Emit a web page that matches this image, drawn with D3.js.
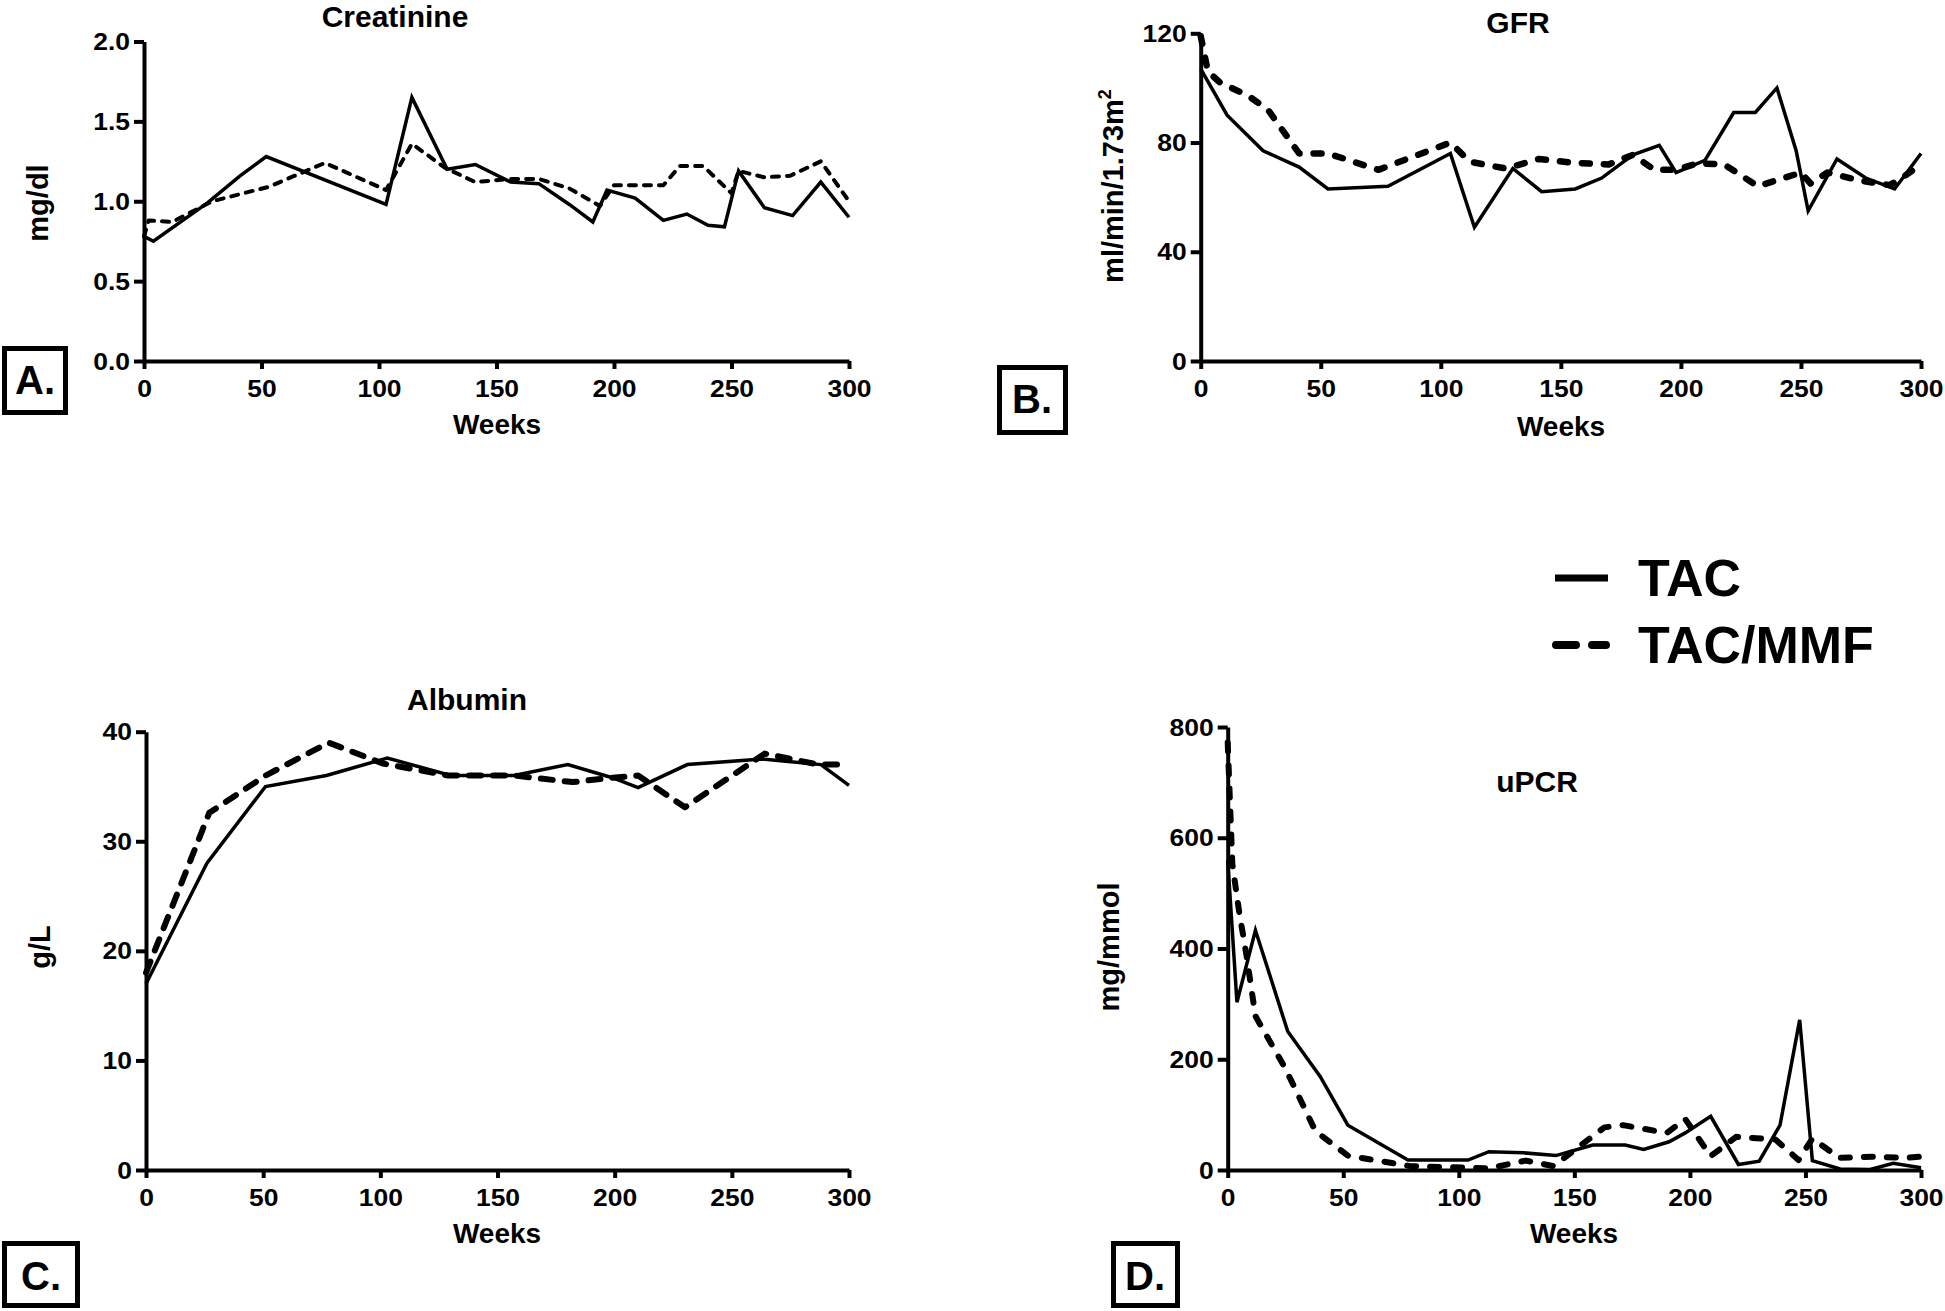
<!DOCTYPE html>
<html>
<head>
<meta charset="utf-8">
<script src="https://cdn.jsdelivr.net/npm/d3@7"></script>
<style>
  html, body { margin: 0; padding: 0; background: #fff; }
  svg text { font-family: "Liberation Sans", Arial, Helvetica, sans-serif; font-weight: bold; fill: #000; }
</style>
</head>
<body>
<svg id="chart" width="1945" height="1311"></svg>
<script>
// ---------------- DATA ----------------
const weekTicks = [0, 50, 100, 150, 200, 250, 300];
const seriesNames = ["TAC", "TAC/MMF"];

const creatinineTicks = [0, 0.5, 1.0, 1.5, 2.0];
const creatinineTAC = [[0,0.78],[4,0.75],[27,0.99],[41,1.16],[52,1.28],[103,0.98],[114,1.65],[129,1.20],[141,1.23],[156,1.12],[168,1.11],[181,0.98],[191,0.87],[197,1.07],[209,1.02],[221,0.88],[231,0.92],[240,0.85],[247,0.84],[253,1.19],[264,0.96],[276,0.91],[288,1.12],[300,0.90]];
const creatinineMMF = [[0,0.78],[2,0.88],[12,0.87],[29,1.00],[53,1.09],[77,1.24],[103,1.07],[114,1.36],[128,1.21],[141,1.12],[156,1.14],[168,1.14],[181,1.08],[194,0.97],[200,1.10],[210,1.10],[221,1.10],[228,1.22],[238,1.22],[250,1.05],[253,1.19],[264,1.15],[275,1.16],[288,1.25],[300,1.00]];

const gfrTicks = [0, 40, 80, 120];
const gfrTAC = [[0,107],[11,90],[26,77],[41,71],[53,63],[78,64],[104,76],[114,49],[130,70.5],[142,62],[156,63],[167,67],[180,75.5],[191,79],[198,69],[210,73.5],[222,91],[231,91],[240,100],[248,77],[253,55],[265,74],[277,67],[289,63],[300,76]];
const gfrMMF = [[0,119],[3,106],[8,102],[20,97],[28,92],[41,76],[53,76],[74,70],[104,80],[112,73],[127,70.5],[141,74],[155,72.6],[170,72],[180,75.5],[189,70],[198,70],[207,72.4],[218,72],[232,64],[250,69],[254,65],[261,69],[275,66],[287,64.4],[292,67],[300,72]];

const albuminTicks = [0, 10, 20, 30, 40];
const albuminTAC = [[0,17],[26,28],[51,35],[77,36],[103,37.6],[130,36],[157,36],[180,37],[199,35.8],[210,34.9],[231,37],[263,37.5],[288,37],[300,35.1]];
const albuminMMF = [[0,18],[27,32.6],[51,36],[78,39],[101,37.1],[129,36],[157,36],[182,35.4],[199,35.8],[210,36],[230,33.1],[264,38],[287,37],[300,37]];

const upcrTicks = [0, 200, 400, 600, 800];
const upcrTAC = [[0,560],[4,303],[12,433],[26,250],[40,169],[52,81],[78,18],[104,18],[113,33],[128,31],[142,26],[158,45],[172,45],[180,37],[191,51],[198,67],[209,97],[221,10],[230,16],[239,81],[247.5,271],[253,17],[265,2],[278,1],[288,12],[300,4]];
const upcrMMF = [[0,772],[2,553],[5,465],[8,391],[12,278],[25,183],[38,70],[52,26],[79,7],[113,3],[129,17],[141,7],[163,77],[171,81],[190,67],[198,92],[209,25],[220,60],[237,55],[247,18],[253,57],[261,33],[264,22],[279,24],[293,22],[300,24]];

// ---------------- LAYOUT ----------------
const svg = d3.select("#chart");

const panels = [
  { title: "Creatinine", ylabel: "mg/dl", yticks: creatinineTicks, yfmt: d3.format(".1f"),
    tac: creatinineTAC, mmf: creatinineMMF,
    x0: 144, x1: 849, y0: 361, y1: 41.5, ymax: 2,
    titleX: 395, titleY: 27, ylabX: 48, ylabY: 203, weeksX: 497, weeksY: 434,
    box: {x: 2, y: 346, w: 66, h: 69, label: "A.", tx: 35, ty: 394},
    dash: {w: 4, arr: "7,8"} },
  { title: "GFR", ylabel: "ml/min/1.73m", sup: "2", yticks: gfrTicks, yfmt: d3.format("d"),
    tac: gfrTAC, mmf: gfrMMF,
    x0: 1200.7, x1: 1921, y0: 361, y1: 33.3, ymax: 120,
    titleX: 1518, titleY: 33, ylabX: 1123, ylabY: 186, weeksX: 1561, weeksY: 436,
    box: {x: 997, y: 365, w: 71, h: 70, label: "B.", tx: 1032, ty: 413},
    dash: {w: 6.5, arr: "8,14"} },
  { title: "Albumin", ylabel: "g/L", yticks: albuminTicks, yfmt: d3.format("d"),
    tac: albuminTAC, mmf: albuminMMF,
    x0: 146, x1: 849, y0: 1170, y1: 731.7, ymax: 40,
    titleX: 467, titleY: 710, ylabX: 50, ylabY: 947, weeksX: 497, weeksY: 1243,
    box: {x: 2, y: 1241, w: 78, h: 67, label: "C.", tx: 41, ty: 1290},
    dash: {w: 6, arr: "12,12"} },
  { title: "uPCR", ylabel: "mg/mmol", yticks: upcrTicks, yfmt: d3.format("d"),
    tac: upcrTAC, mmf: upcrMMF,
    x0: 1227.7, x1: 1921, y0: 1170, y1: 727, ymax: 800,
    titleX: 1537, titleY: 792, ylabX: 1119, ylabY: 947, weeksX: 1574, weeksY: 1243,
    box: {x: 1111, y: 1241, w: 69, h: 67, label: "D.", tx: 1145, ty: 1290},
    dash: {w: 6, arr: "9,14"} }
];

const TICK_SX = 1.15;

panels.forEach(p => {
  const x = d3.scaleLinear().domain([0, 300]).range([p.x0, p.x1]);
  const y = d3.scaleLinear().domain([0, p.ymax]).range([p.y0, p.y1]);
  const g = svg.append("g");

  const gx = g.append("g").attr("transform", `translate(0,${p.y0})`)
    .call(d3.axisBottom(x).tickValues(weekTicks).tickSize(8).tickSizeOuter(0).tickFormat(d3.format("d")));
  const gy = g.append("g").attr("transform", `translate(${p.x0},0)`)
    .call(d3.axisLeft(y).tickValues(p.yticks).tickSize(10).tickSizeOuter(0).tickFormat(p.yfmt));

  [gx, gy].forEach(a => {
    a.select(".domain").attr("stroke", "#000").attr("stroke-width", 4);
    a.selectAll(".tick line").attr("stroke", "#000").attr("stroke-width", 4);
    a.selectAll(".tick text").attr("font-size", 23).attr("font-family", null).attr("fill", "#000");
  });
  gx.selectAll(".tick text").attr("y", 36).attr("dy", null)
    .attr("transform", `scale(${TICK_SX},1)`);
  gy.selectAll(".tick text").attr("x", -14 / TICK_SX).attr("dy", "0.35em")
    .attr("transform", `scale(${TICK_SX},1)`);

  const line = d3.line().x(d => x(d[0])).y(d => y(d[1]));
  g.append("path").datum(p.mmf).attr("d", line)
    .attr("fill", "none").attr("stroke", "#000").attr("stroke-width", p.dash.w)
    .attr("stroke-dasharray", p.dash.arr).attr("stroke-linecap", "round").attr("stroke-linejoin", "round");
  g.append("path").datum(p.tac).attr("d", line)
    .attr("fill", "none").attr("stroke", "#000").attr("stroke-width", 3.5).attr("stroke-linejoin", "miter");

  g.append("text").attr("x", p.titleX).attr("y", p.titleY).attr("text-anchor", "middle")
    .attr("font-size", 30).text(p.title);
  const yl = g.append("text").attr("transform", `translate(${p.ylabX},${p.ylabY}) rotate(-90)`)
    .attr("text-anchor", "middle").attr("font-size", 29).text(p.ylabel);
  if (p.sup) yl.append("tspan").attr("dy", -12).attr("font-size", 18).text(p.sup);
  g.append("text").attr("x", p.weeksX).attr("y", p.weeksY).attr("text-anchor", "middle")
    .attr("font-size", 28).text("Weeks");

  g.append("rect").attr("x", p.box.x + 2.5).attr("y", p.box.y + 2.5)
    .attr("width", p.box.w - 5).attr("height", p.box.h - 5)
    .attr("fill", "none").attr("stroke", "#000").attr("stroke-width", 5);
  g.append("text").attr("x", p.box.tx).attr("y", p.box.ty).attr("text-anchor", "middle")
    .attr("font-size", 40).text(p.box.label);
});

// legend
const legend = svg.append("g");
const legY = d3.scalePoint().domain(seriesNames).range([578, 645]);
seriesNames.forEach((name, i) => {
  const yy = legY(name);
  const ln = legend.append("line").attr("x1", i === 0 ? 1555 : 1556).attr("x2", i === 0 ? 1608 : 1606)
    .attr("y1", yy).attr("y2", yy).attr("stroke", "#000");
  if (i === 0) ln.attr("stroke-width", 7);
  else ln.attr("stroke-width", 8).attr("stroke-dasharray", "20,16").attr("stroke-linecap", "round");
  legend.append("text").attr("x", 1638).attr("y", yy + 18).attr("font-size", 52).text(name);
});
</script>
</body>
</html>
